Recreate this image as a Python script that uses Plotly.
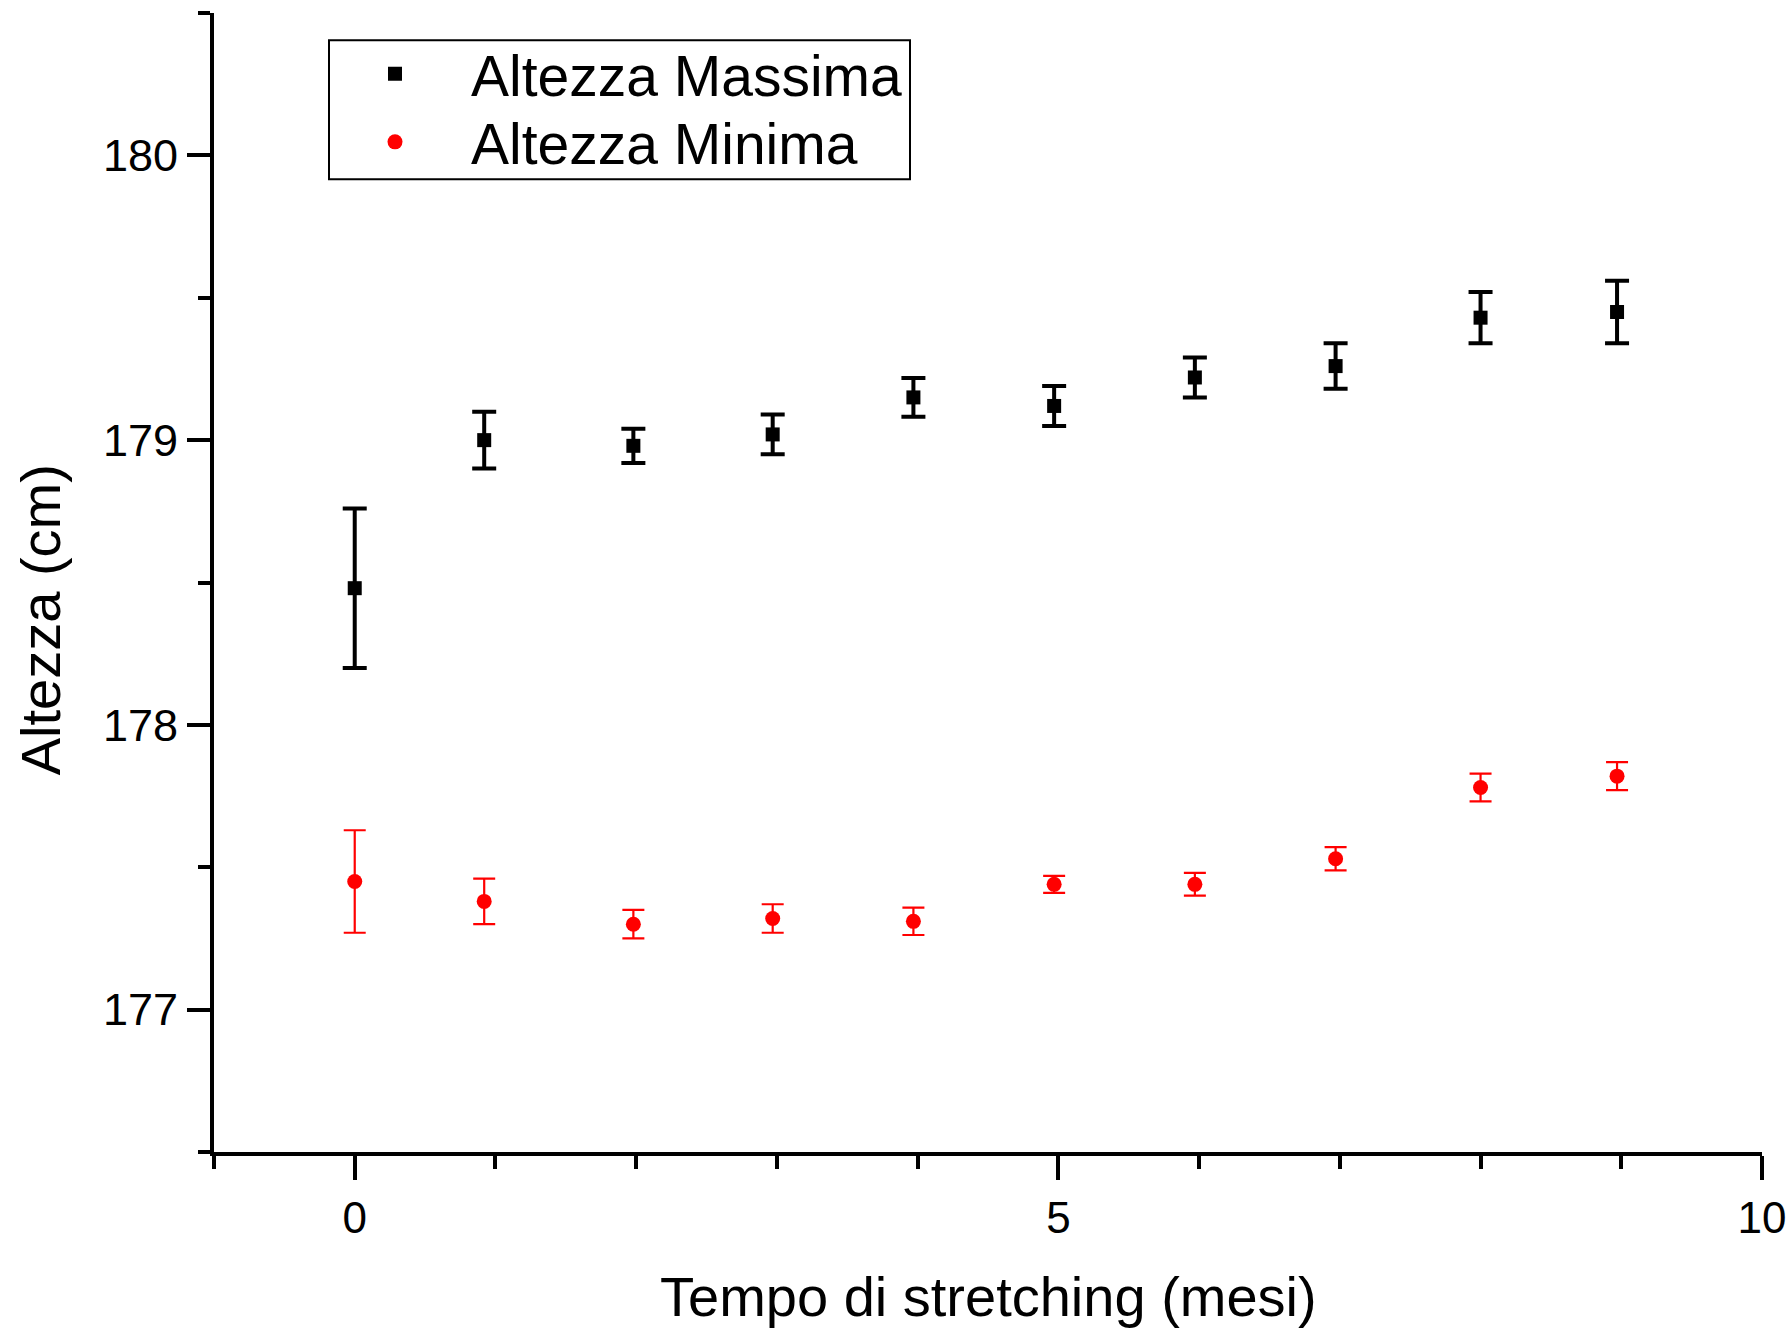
import plotly.graph_objects as go

# Data
months = [0, 0.92, 1.98, 2.97, 3.97, 4.97, 5.97, 6.97, 8.0, 8.97]
h_max = [178.48, 179.00, 178.98, 179.02, 179.15, 179.12, 179.22, 179.26, 179.43, 179.45]
h_max_err = [0.28, 0.10, 0.06, 0.07, 0.068, 0.07, 0.07, 0.08, 0.09, 0.11]
h_min = [177.45, 177.38, 177.30, 177.32, 177.31, 177.44, 177.44, 177.53, 177.78, 177.82]
h_min_err = [0.18, 0.08, 0.05, 0.05, 0.048, 0.03, 0.04, 0.041, 0.049, 0.049]

x_title = "Tempo di stretching (mesi)"
y_title = "Altezza (cm)"
name_max = "Altezza Massima"
name_min = "Altezza Minima"

FONT = "Liberation Sans, Arial, sans-serif"

# plot area in page pixels
W, H = 1791, 1329
PL, PR, PT, PB = 214, 1762, 12.7, 1151.7
PW, PH = PR - PL, PB - PT


def px(x):
    return (x - PL) / PW


def py(y):
    return (PB - y) / PH


fig = go.Figure()
fig.add_trace(go.Scatter(
    x=months, y=h_max, mode="markers", name=name_max, legend="legend",
    marker=dict(symbol="square", size=14, color="black"),
    error_y=dict(type="data", array=h_max_err, visible=True,
                 color="black", thickness=4, width=12),
))
fig.add_trace(go.Scatter(
    x=months, y=h_min, mode="markers", name=name_min, legend="legend2",
    marker=dict(symbol="circle", size=15, color="#ff0000"),
    error_y=dict(type="data", array=h_min_err, visible=True,
                 color="#ff0000", thickness=2.2, width=11),
))

leg_common = dict(
    xanchor="left", yanchor="middle",
    bgcolor="rgba(0,0,0,0)", borderwidth=0,
    font=dict(size=57, family=FONT, color="black"),
    itemwidth=142,
)

fig.update_layout(
    width=W, height=H,
    margin=dict(l=PL, r=W - PR, t=PT, b=H - PB, autoexpand=False),
    paper_bgcolor="white", plot_bgcolor="white",
    font=dict(family=FONT, color="black"),
    showlegend=True,
    legend=dict(x=px(319), y=py(74), **leg_common),
    legend2=dict(x=px(319), y=py(142), **leg_common),
    shapes=[
        dict(type="rect", xref="paper", yref="paper",
             x0=px(329), x1=px(910), y0=py(179), y1=py(40),
             line=dict(color="black", width=2), fillcolor="rgba(0,0,0,0)", layer="below"),
    ],
    annotations=[
        dict(text=y_title, textangle=-90, showarrow=False,
             xref="paper", yref="paper", x=px(40), y=py(620),
             xanchor="center", yanchor="middle",
             font=dict(size=56, family=FONT, color="black")),
        dict(text=x_title, showarrow=False,
             xref="paper", yref="paper", x=0.5, y=py(1296),
             xanchor="center", yanchor="middle",
             font=dict(size=56, family=FONT, color="black")),
    ],
)

fig.update_xaxes(
    range=[-1, 10], tick0=0, dtick=5,
    showline=True, linecolor="black", linewidth=4,
    ticks="outside", ticklen=24, tickwidth=3.5, tickcolor="black",
    tickfont=dict(size=44, family=FONT, color="black"),
    minor=dict(dtick=1, tick0=0, ticks="outside", ticklen=13, tickwidth=3.5, tickcolor="black"),
    showgrid=False, zeroline=False, mirror=False,
)
fig.update_yaxes(
    range=[176.5, 180.5], tick0=177, dtick=1,
    showline=True, linecolor="black", linewidth=4,
    ticks="outside", ticklen=23, tickwidth=3.5, tickcolor="black",
    tickfont=dict(size=45, family=FONT, color="black"),
    minor=dict(dtick=0.5, tick0=176.5, ticks="outside", ticklen=12, tickwidth=3.5, tickcolor="black"),
    showgrid=False, zeroline=False, mirror=False,
)

fig.write_html(
    "out.html",
    config={"displayModeBar": False},
    post_script="document.body.style.margin='0px';document.body.style.overflow='hidden';",
)
